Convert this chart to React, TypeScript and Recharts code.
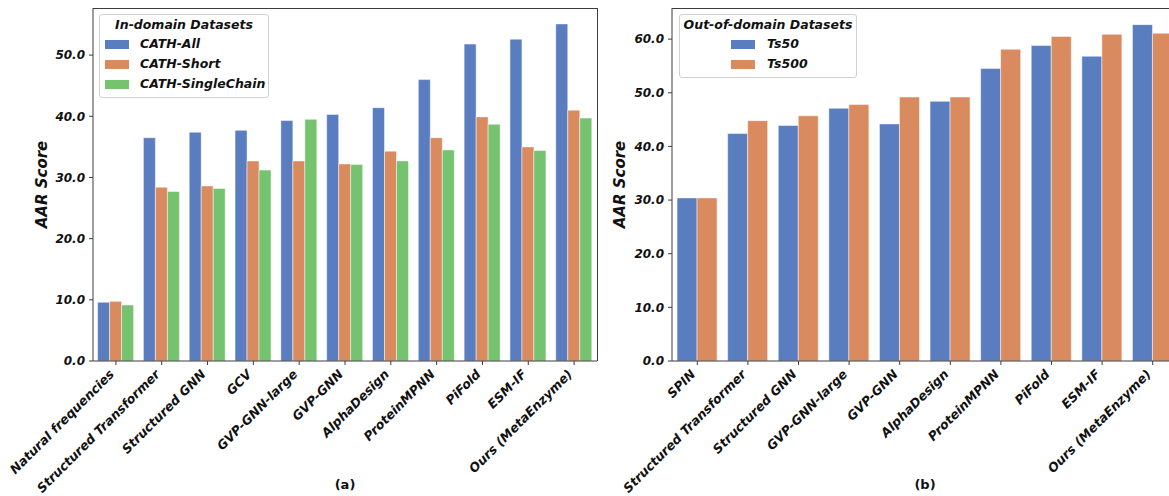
import { BarChart, Bar, XAxis, YAxis, Legend, Label } from 'recharts';

const methodsA = ['Natural frequencies', 'Structured Transformer', 'Structured GNN', 'GCV', 'GVP-GNN-large', 'GVP-GNN', 'AlphaDesign', 'ProteinMPNN', 'PiFold', 'ESM-IF', 'Ours (MetaEnzyme)'];
const cathAll = [9.6, 36.5, 37.4, 37.7, 39.3, 40.3, 41.4, 46.0, 51.8, 52.6, 55.1];
const cathShort = [9.75, 28.4, 28.6, 32.7, 32.7, 32.2, 34.3, 36.5, 39.9, 35.0, 41.0];
const cathSingle = [9.15, 27.7, 28.2, 31.2, 39.5, 32.1, 32.7, 34.5, 38.7, 34.4, 39.7];

const methodsB = ['SPIN', 'Structured Transformer', 'Structured GNN', 'GVP-GNN-large', 'GVP-GNN', 'AlphaDesign', 'ProteinMPNN', 'PiFold', 'ESM-IF', 'Ours (MetaEnzyme)'];
const ts50 = [30.4, 42.4, 43.9, 47.1, 44.2, 48.4, 54.5, 58.8, 56.8, 62.7];
const ts500 = [30.4, 44.8, 45.7, 47.8, 49.2, 49.2, 58.1, 60.5, 60.9, 61.1];

const ticksA = [0, 10, 20, 30, 40, 50];
const ticksB = [0, 10, 20, 30, 40, 50, 60];

const BLUE = '#5a7dc0';
const ORANGE = '#d98a5f';
const GREEN = '#75c26f';
const FONT = '"DejaVu Sans", sans-serif';
const FRAME = '#3c3c3c';

const dataA = methodsA.map((name, i) => ({ name, all: cathAll[i], short: cathShort[i], single: cathSingle[i] }));
const dataB = methodsB.map((name, i) => ({ name, ts50: ts50[i], ts500: ts500[i] }));

function XTick({ x, y, payload }: any) {
  return (
    <text
      transform={`translate(${x - 1},${y + 8}) rotate(-45)`}
      textAnchor="end"
      fontFamily={FONT}
      fontWeight="bold"
      fontStyle="italic"
      fontSize={12.6}
      fill="#111"
    >
      {payload.value}
    </text>
  );
}

const yLabel = (x: number) => (props: any) => {
  const vb = props.viewBox;
  const cy = vb.y + vb.height / 2;
  return (
    <text
      x={x}
      y={cy}
      transform={`rotate(-90 ${x} ${cy})`}
      textAnchor="middle"
      dominantBaseline="central"
      fontFamily={FONT}
      fontWeight="bold"
      fontStyle="italic"
      fontSize={15}
      fill="#111"
    >
      AAR Score
    </text>
  );
};

const legendBox = (title: string, swatchX: number, textX: number, width: number) => (props: any) => (
  <div
    style={{
      width,
      background: 'rgba(255,255,255,0.85)',
      border: '1px solid #d0d0d0',
      borderRadius: 3,
      padding: '1px 0 3px 0',
      fontFamily: FONT,
      fontWeight: 'bold',
      fontStyle: 'italic',
      fontSize: 12.5,
      color: '#111',
      boxSizing: 'border-box',
      whiteSpace: 'nowrap',
    }}
  >
    <div style={{ textAlign: 'center', height: 18, lineHeight: '18px' }}>{title}</div>
    {props.payload.map((p: any) => (
      <div key={p.value} style={{ position: 'relative', height: 20, lineHeight: '20px' }}>
        <span style={{ position: 'absolute', left: swatchX, top: 6, width: 24, height: 9, background: p.color }} />
        <span style={{ position: 'absolute', left: textX }}>{p.value}</span>
      </div>
    ))}
  </div>
);

const tickStyle = { fontFamily: FONT, fontWeight: 'bold', fontStyle: 'italic', fontSize: 12, fill: '#111' };

function Frame({ left, width }: { left: number; width: number }) {
  return (
    <div
      style={{
        position: 'absolute',
        left,
        top: 8,
        width,
        height: 353,
        borderTop: `1px solid ${FRAME}`,
        borderRight: `1px solid ${FRAME}`,
        boxSizing: 'border-box',
        pointerEvents: 'none',
      }}
    />
  );
}

export default function App() {
  return (
    <div style={{ position: 'absolute', left: 0, top: 0, width: 1169, height: 496, overflow: 'hidden', background: '#fff' }}>
      <div style={{ position: 'absolute', left: 0, top: 0 }}>
        <BarChart width={600} height={496} data={dataA} margin={{ top: 8, right: 3, left: 33, bottom: 0 }} barCategoryGap="10%" barGap={0}>
          <XAxis dataKey="name" height={135} interval={0} tick={<XTick />} tickSize={4} tickMargin={2} axisLine={{ stroke: FRAME }} tickLine={{ stroke: FRAME }}>
            <Label value="(a)" position="insideBottom" offset={7} style={{ fontFamily: FONT, fontWeight: 'bold', fontSize: 13, fill: '#111' }} />
          </XAxis>
          <YAxis width={60} domain={[0, 57.7]} ticks={ticksA} tickFormatter={(v: number) => v.toFixed(1)} tick={tickStyle} tickSize={4} tickMargin={4} axisLine={{ stroke: FRAME }} tickLine={{ stroke: FRAME }} allowDataOverflow label={yLabel(42)} />
          <Legend layout="vertical" align="center" verticalAlign="middle" wrapperStyle={{ left: 99, top: 14, width: 'auto' }} content={legendBox('In-domain Datasets', 5, 40, 170)} />
          <Bar dataKey="all" name="CATH-All" fill={BLUE} stroke="rgba(255,255,255,0.6)" strokeWidth={0.8} isAnimationActive={false} />
          <Bar dataKey="short" name="CATH-Short" fill={ORANGE} stroke="rgba(255,255,255,0.6)" strokeWidth={0.8} isAnimationActive={false} />
          <Bar dataKey="single" name="CATH-SingleChain" fill={GREEN} stroke="rgba(255,255,255,0.6)" strokeWidth={0.8} isAnimationActive={false} />
        </BarChart>
      </div>
      <Frame left={93} width={505} />
      <div style={{ position: 'absolute', left: 600, top: 0 }}>
        <BarChart width={600} height={496} data={dataB} margin={{ top: 8, right: 22, left: 12, bottom: 0 }} barCategoryGap="10%" barGap={0}>
          <XAxis dataKey="name" height={135} interval={0} tick={<XTick />} tickSize={4} tickMargin={2} axisLine={{ stroke: FRAME }} tickLine={{ stroke: FRAME }}>
            <Label value="(b)" position="insideBottom" offset={7} style={{ fontFamily: FONT, fontWeight: 'bold', fontSize: 13, fill: '#111' }} />
          </XAxis>
          <YAxis width={60} domain={[0, 65.8]} ticks={ticksB} tickFormatter={(v: number) => v.toFixed(1)} tick={tickStyle} tickSize={4} tickMargin={4} axisLine={{ stroke: FRAME }} tickLine={{ stroke: FRAME }} allowDataOverflow label={yLabel(20)} />
          <Legend layout="vertical" align="center" verticalAlign="middle" wrapperStyle={{ left: 79, top: 14, width: 'auto' }} content={legendBox('Out-of-domain Datasets', 51, 87, 178)} />
          <Bar dataKey="ts50" name="Ts50" fill={BLUE} stroke="rgba(255,255,255,0.6)" strokeWidth={0.8} isAnimationActive={false} />
          <Bar dataKey="ts500" name="Ts500" fill={ORANGE} stroke="rgba(255,255,255,0.6)" strokeWidth={0.8} isAnimationActive={false} />
        </BarChart>
      </div>
      <Frame left={672} width={506} />
    </div>
  );
}
